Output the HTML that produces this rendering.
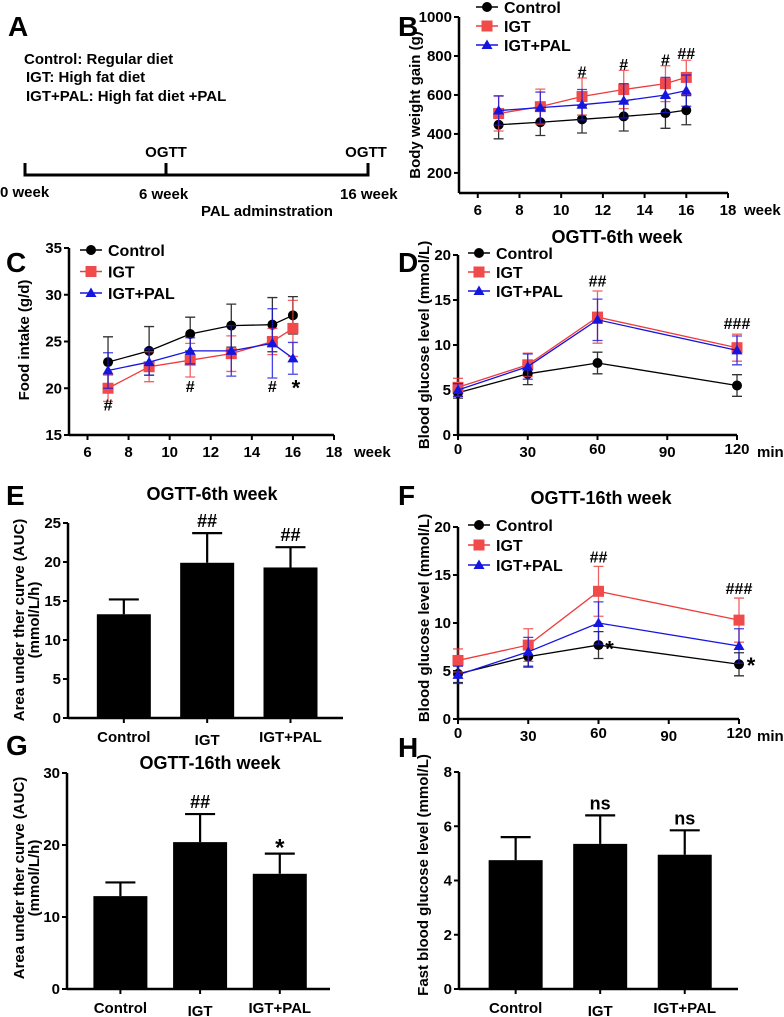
<!DOCTYPE html>
<html><head><meta charset="utf-8"><style>
html,body{margin:0;padding:0;background:#fff;}
svg{display:block;font-family:"Liberation Sans",Arial,sans-serif;font-weight:bold;}
</style></head><body>
<svg id="fig" width="784" height="1017" viewBox="0 0 784 1017" xmlns="http://www.w3.org/2000/svg">
<g>
<text x="8" y="36" font-size="28">A</text>
<text x="24" y="64" font-size="15">Control: Regular diet</text>
<text x="26" y="82" font-size="15">IGT: High fat diet</text>
<text x="26" y="101" font-size="15">IGT+PAL: High fat diet +PAL</text>
<path d="M25,163V175H368V163M166,163V175" stroke="#000" stroke-width="3" fill="none"/>
<text x="166" y="157" font-size="15" text-anchor="middle">OGTT</text>
<text x="366" y="157" font-size="15" text-anchor="middle">OGTT</text>
<text x="0" y="197" font-size="15">0 week</text>
<text x="139" y="199" font-size="15">6 week</text>
<text x="340" y="199" font-size="15">16 week</text>
<text x="201" y="216" font-size="15">PAL adminstration</text>
</g>
</svg>
<script>
// ---- Panel B: body weight ----
const weeks = [7, 9, 11, 13, 15, 16];
const bCtrl = [447, 460, 475, 490, 507, 522];
const bCtrlErr = [72, 68, 70, 75, 78, 75];
const bIGT = [505, 540, 592, 628, 658, 690];
const bIGTErr = [90, 90, 95, 98, 92, 88];
const bPAL = [520, 535, 550, 570, 600, 622];
const bPALErr = [75, 80, 78, 88, 90, 80];
const bXTicks = [6, 8, 10, 12, 14, 16, 18];
const bYTicks = [200, 400, 600, 800, 1000];
// ---- Panel C: food intake ----
const cCtrl = [22.8, 24.0, 25.8, 26.7, 26.8, 27.8];
const cCtrlErr = [2.7, 2.6, 1.8, 2.3, 2.9, 2.0];
const cIGT = [20.0, 22.3, 23.0, 23.7, 25.0, 26.4];
const cIGTErr = [1.4, 1.6, 1.8, 1.9, 1.4, 3.0];
const cPAL = [21.9, 22.8, 24.0, 24.0, 24.8, 23.2];
const cPALErr = [1.9, 1.4, 1.4, 2.7, 3.7, 1.7];
const cYTicks = [15, 20, 25, 30, 35];
// ---- Panels D/F: OGTT ----
const times = [0, 30, 60, 120];
const tXTicks = [0, 30, 60, 90, 120];
const gYTicks = [0, 5, 10, 15, 20];
const dCtrl = [4.7, 6.8, 8.0, 5.5];
const dCtrlErr = [0.6, 1.2, 1.2, 1.2];
const dIGT = [5.3, 7.8, 13.1, 9.7];
const dIGTErr = [1.0, 1.3, 2.9, 1.5];
const dPAL = [5.0, 7.6, 12.8, 9.4];
const dPALErr = [0.7, 1.4, 2.3, 1.6];
const fCtrl = [4.7, 6.5, 7.7, 5.7];
const fCtrlErr = [0.9, 1.1, 1.4, 1.2];
const fIGT = [6.1, 7.7, 13.3, 10.3];
const fIGTErr = [1.2, 1.7, 2.6, 2.3];
const fPAL = [4.6, 7.0, 10.0, 7.6];
const fPALErr = [0.9, 1.5, 2.2, 1.8];
// ---- Bar panels ----
const groups = ["Control", "IGT", "IGT+PAL"];
const eVals = [13.3, 19.9, 19.3];
const eErr = [1.9, 3.8, 2.6];
const eYTicks = [0, 5, 10, 15, 20, 25];
const gVals = [12.9, 20.4, 16.0];
const gErr = [1.9, 3.9, 2.8];
const g2YTicks = [0, 10, 20, 30];
const hVals = [4.75, 5.35, 4.95];
const hErr = [0.85, 1.05, 0.9];
const hYTicks = [0, 2, 4, 6, 8];

const NS = "http://www.w3.org/2000/svg";
const svg = document.getElementById('fig');
function mk(tag, attrs, parent, txt) {
  const e = document.createElementNS(NS, tag);
  for (const k in attrs) e.setAttribute(k, attrs[k]);
  if (txt !== undefined) e.textContent = txt;
  (parent || svg).appendChild(e);
  return e;
}
function panel(name) {
  const g = mk('g', {});
  
  
  return g;
}
function lin(d0, d1, r0, r1) { return v => r0 + (v - d0) * (r1 - r0) / (d1 - d0); }
const COL = { ctrl: '#000', igt: '#ee3b3b', pal: '#1515e0' };

function marker(g, kind, x, y) {
  let m;
  if (kind === 'ctrl') m = mk('circle', { cx: x, cy: y, r: 5, fill: '#000' }, g);
  else if (kind === 'igt') m = mk('rect', { x: x - 5.5, y: y - 5.5, width: 11, height: 11, fill: '#f04a4a' }, g);
  else m = mk('path', { d: `M${x},${y - 5.5}L${x + 5.5},${y + 4}L${x - 5.5},${y + 4}Z`, fill: COL.pal }, g);
  return m;
}

function yAxis(g, X, Y, ticks, ymin, ymax, fs) {
  const ax = mk('line', { x1: X, x2: X, y1: Y(ymin), y2: Y(ymax), stroke: '#000', 'stroke-width': 2.5 }, g);
  
  
  ticks.forEach(t => {
    mk('line', { x1: X - 5, x2: X, y1: Y(t), y2: Y(t), stroke: '#000', 'stroke-width': 2 }, g);
    const tl = mk('text', { x: X - 7, y: Y(t) + 5, 'font-size': fs || 15, 'text-anchor': 'end' }, g, t);
    
    
  });
}
function yTitle(g, x, y, lines) {
  lines.forEach((s, i) => {
    const t = mk('text', { x: 0, y: 0, 'font-size': 15, 'text-anchor': 'middle', transform: `translate(${x + i * 15},${y}) rotate(-90)` }, g, s);
    
    
  });
}
function txt(g, x, y, s, fs, name, anchor) {
  const t = mk('text', { x: x, y: y, 'font-size': fs, 'text-anchor': anchor || 'middle' }, g, s);
  
  
  return t;
}

function lineChart(name, c) {
  const g = panel(name);
  const X = lin(c.xmin, c.xmax, c.x0, c.x1), Y = lin(c.ymin, c.ymax, c.y0, c.y1);
  yAxis(g, c.x0, Y, c.yticks, c.ymin, c.ymax);
  const xa = mk('line', { x1: c.x0, x2: c.x1, y1: c.y0, y2: c.y0, stroke: '#000', 'stroke-width': 2.5 }, g);
  
  
  c.xticks.forEach((t, i) => {
    mk('line', { x1: X(t), x2: X(t), y1: c.y0, y2: c.y0 + 5, stroke: '#000', 'stroke-width': 2 }, g);
    txt(g, X(t), c.y0 + 22 + (c.stagger ? c.stagger[i] : 0), t, 15, 'x-tick-label');
  });
  txt(g, c.unitX, c.y0 + 22, c.unit, 15, 'x-unit-label', 'start');
  c.series.forEach(s => {
    const sg = mk('g', {}, g);
    
    
    const pts = c.xs.map((x, i) => X(x) + ',' + Y(s.vals[i])).join(' ');
    mk('polyline', { points: pts, fill: 'none', stroke: COL[s.kind], 'stroke-width': 1.3 }, sg);
    c.xs.forEach((x, i) => {
      const px = X(x), hi = Y(s.vals[i] + s.errs[i]), lo = Y(s.vals[i] - s.errs[i]);
      const eb = mk('path', { d: `M${px},${hi}V${lo}M${px - 5},${hi}H${px + 5}M${px - 5},${lo}H${px + 5}`, stroke: COL[s.kind], 'stroke-width': 1.3, fill: 'none', opacity: 0.8 }, sg);
      
      
    });
    c.xs.forEach((x, i) => {
      const m = marker(sg, s.kind, X(x), Y(s.vals[i]));
      
      
    });
  });
  const lg = mk('g', {}, g);
  
  
  [['ctrl', 'Control'], ['igt', 'IGT'], ['pal', 'IGT+PAL']].forEach((e, i) => {
    const ly = c.leg[1] + i * c.leg[2];
    const eg = mk('g', {}, lg);
    
    
    mk('line', { x1: c.leg[0], x2: c.leg[0] + 22, y1: ly, y2: ly, stroke: COL[e[0]], 'stroke-width': 1.5 }, eg);
    marker(eg, e[0], c.leg[0] + 11, ly);
    mk('text', { x: c.leg[0] + 28, y: ly + 6, 'font-size': 16 }, eg, e[1]);
  });
  (c.ann || []).forEach(a => txt(g, X(a[0]) + (a[3] || 0), Y(a[1]), a[2], a[2] === '*' ? 22 : 16, 'significance-mark', a[4] || 'middle'));
  return { g, X, Y };
}

function barChart(name, c) {
  const g = panel(name);
  const Y = lin(c.ymin, c.ymax, c.y0, c.y1);
  yAxis(g, c.x0, Y, c.yticks, c.ymin, c.ymax);
  const xa = mk('line', { x1: c.x0, x2: c.x1, y1: c.y0, y2: c.y0, stroke: '#000', 'stroke-width': 2.5 }, g);
  
  
  const step = (c.x1 - c.x0) / 3.3;
  groups.forEach((gr, i) => {
    const cx = c.x0 + step * (0.67 + i);
    const top = Y(c.vals[i]), et = Y(c.vals[i] + c.errs[i]);
    const eb = mk('path', { d: `M${cx},${top}V${et}M${cx - 15},${et}H${cx + 15}`, stroke: '#000', 'stroke-width': 2.2, fill: 'none' }, g);
    
    
    const b = mk('rect', { x: cx - 27, y: top, width: 54, height: c.y0 - top, fill: '#000' }, g);
    
    
    mk('line', { x1: cx, x2: cx, y1: c.y0, y2: c.y0 + 5, stroke: '#000', 'stroke-width': 2 }, g);
    txt(g, cx, c.y0 + 24 + (i === 1 ? 3 : 0), gr, 15, 'x-tick-label');
    if (c.ann[i]) txt(g, cx, et - 6 + (c.ann[i] === '*' ? 8 : 0), c.ann[i], c.ann[i] === '*' ? 24 : 18, 'significance-mark');
  });
  return g;
}

let p = lineChart('panel-b-body-weight-chart', {
  x0: 459, x1: 728, xmin: 5.1, xmax: 18, y0: 193, y1: 17, ymin: 97, ymax: 1000,
  xs: weeks, xticks: bXTicks, yticks: bYTicks, unit: 'week', unitX: 744,
  series: [{ kind: 'ctrl', vals: bCtrl, errs: bCtrlErr }, { kind: 'igt', vals: bIGT, errs: bIGTErr }, { kind: 'pal', vals: bPAL, errs: bPALErr }],
  leg: [476, 7, 19],
  ann: [[11, 690, '#'], [13, 728, '#'], [15, 752, '#'], [16, 785, '##']]
});
txt(p.g, 398, 36, 'B', 28, 'panel-label-b', 'start');
yTitle(p.g, 420, 105, ['Body weight gain (g)']);

p = lineChart('panel-c-food-intake-chart', {
  x0: 69, x1: 334, xmin: 5.1, xmax: 18, y0: 435, y1: 248, ymin: 15, ymax: 35,
  xs: weeks, xticks: bXTicks, yticks: cYTicks, unit: 'week', unitX: 354,
  series: [{ kind: 'ctrl', vals: cCtrl, errs: cCtrlErr }, { kind: 'igt', vals: cIGT, errs: cIGTErr }, { kind: 'pal', vals: cPAL, errs: cPALErr }],
  leg: [80, 250, 21.5],
  ann: [[7, 17.6, '#'], [11, 19.6, '#'], [15, 19.6, '#'], [16, 19.2, '*', 3]]
});
txt(p.g, 6, 272, 'C', 28, 'panel-label-c', 'start');
yTitle(p.g, 29, 340, ['Food intake (g/d)']);

p = lineChart('panel-d-ogtt-6th-week-chart', {
  x0: 458, x1: 737, xmin: 0, xmax: 120, y0: 435, y1: 255, ymin: 0, ymax: 20,
  xs: times, xticks: tXTicks, yticks: gYTicks, unit: 'min', unitX: 757, stagger: [-3, 0, -3, 0, -3],
  series: [{ kind: 'ctrl', vals: dCtrl, errs: dCtrlErr }, { kind: 'igt', vals: dIGT, errs: dIGTErr }, { kind: 'pal', vals: dPAL, errs: dPALErr }],
  leg: [468, 253, 19],
  ann: [[60, 16.5, '##'], [120, 11.8, '###']]
});
txt(p.g, 398, 272, 'D', 28, 'panel-label-d', 'start');
txt(p.g, 617, 243, 'OGTT-6th week', 18, 'chart-title');
yTitle(p.g, 429, 345, ['Blood glucose level (mmol/L)']);

p = lineChart('panel-f-ogtt-16th-week-chart', {
  x0: 458, x1: 739, xmin: 0, xmax: 120, y0: 719, y1: 527, ymin: 0, ymax: 20,
  xs: times, xticks: tXTicks, yticks: gYTicks, unit: 'min', unitX: 757, stagger: [-3, 0, -3, 0, -3],
  series: [{ kind: 'ctrl', vals: fCtrl, errs: fCtrlErr }, { kind: 'igt', vals: fIGT, errs: fIGTErr }, { kind: 'pal', vals: fPAL, errs: fPALErr }],
  leg: [468, 525, 20],
  ann: [[60, 16.3, '##'], [120, 13.0, '###'], [60, 6.5, '*', 11], [120, 4.8, '*', 12]]
});
txt(p.g, 398, 505, 'F', 28, 'panel-label-f', 'start');
txt(p.g, 601, 504, 'OGTT-16th week', 18, 'chart-title');
yTitle(p.g, 429, 618, ['Blood glucose level (mmol/L)']);

let g = barChart('panel-e-auc-6th-week-chart', { x0: 68, x1: 343, y0: 718, y1: 523, ymin: 0, ymax: 25, yticks: eYTicks, vals: eVals, errs: eErr, ann: ['', '##', '##'] });
txt(g, 6, 505, 'E', 28, 'panel-label-e', 'start');
txt(g, 212, 500, 'OGTT-6th week', 18, 'chart-title');
yTitle(g, 24, 620, ['Area under ther curve (AUC)', '(mmol/L/h)']);

g = barChart('panel-g-auc-16th-week-chart', { x0: 67, x1: 330, y0: 989, y1: 773, ymin: 0, ymax: 30, yticks: g2YTicks, vals: gVals, errs: gErr, ann: ['', '##', '*'] });
txt(g, 6, 755, 'G', 28, 'panel-label-g', 'start');
txt(g, 210, 769, 'OGTT-16th week', 18, 'chart-title');
yTitle(g, 24, 878, ['Area under ther curve (AUC)', '(mmol/L/h)']);

g = barChart('panel-h-fasting-glucose-chart', { x0: 459, x1: 738, y0: 989, y1: 772, ymin: 0, ymax: 8, yticks: hYTicks, vals: hVals, errs: hErr, ann: ['', 'ns', 'ns'] });
txt(g, 398, 757, 'H', 28, 'panel-label-h', 'start');
yTitle(g, 428, 875, ['Fast blood glucose level (mmol/L)']);
</script>
</body></html>
